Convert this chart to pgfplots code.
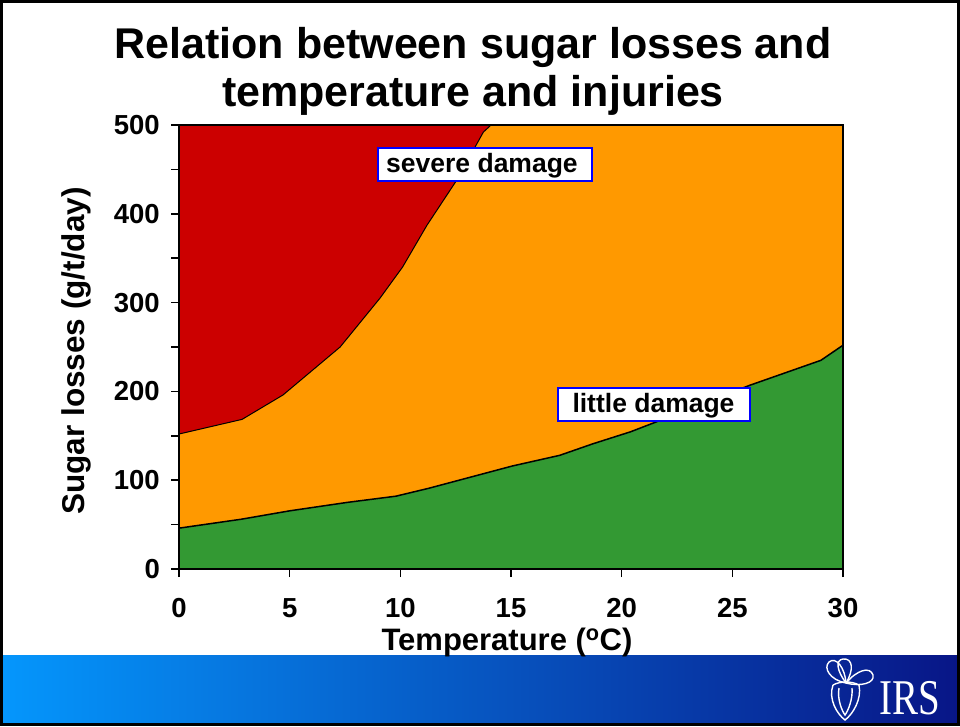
\documentclass[border=0pt]{standalone}
\usepackage{pgfplots}
\pgfplotsset{compat=1.18}
\usepackage{fontspec}
\setmainfont{Liberation Sans}
\newfontfamily\seriffont{Liberation Serif}
\definecolor{redC}{RGB}{204,0,0}
\definecolor{orangeC}{RGB}{255,153,0}
\definecolor{greenC}{RGB}{51,153,51}
\definecolor{barL}{RGB}{5,150,252}
\definecolor{barR}{RGB}{8,22,135}
\begin{document}
\begin{tikzpicture}[x=1pt,y=1pt]
\useasboundingbox (0,0) rectangle (960,726);
\fill[white] (0,0) rectangle (960,726);
\shade[left color=barL, right color=barR] (3,4) rectangle (957,71);
\begin{axis}[at={(179pt,157pt)}, anchor=south west, scale only axis,
  width=664pt, height=444pt,
  xmin=0, xmax=30, ymin=0, ymax=500,
  xtick={0,5,...,30}, ytick={0,100,...,500}, minor ytick={50,150,...,450},
  xtick pos=left, ytick pos=left,
  tick align=outside, major tick length=8pt, minor tick length=8pt,
  every tick/.style={black, line width=1.5pt},
  axis line style={black, line width=2pt},
  axis on top,
  axis background/.style={fill=orangeC},
  /pgf/number format/assume math mode=true,
  ticklabel style={font=\bfseries\fontsize{27.5}{27.5}\selectfont, inner sep=0pt},
  xticklabel style={anchor=base, yshift=-40pt},
  yticklabel style={anchor=east, xshift=-11pt},
]
\addplot[fill=greenC, draw=none] coordinates {
 (0,46) (2.8,56) (5,65.5) (7.6,75) (9.8,82) (11.3,91) (15.06,116) (17.2,128)
 (18.7,141) (20.4,154.5) (21.6,166) (23.7,187) (25.8,207) (29,235) (30,252)} \closedcycle;
\addplot[fill=redC, draw=none] coordinates {
 (0,152) (2.85,168.5) (4.7,196) (7.28,250) (9.08,305) (10.1,340) (11.2,387)
 (12.55,438) (13.75,492) (14.1,500) (0,500)} -- cycle;
\addplot[black, line width=1.5pt] coordinates {
 (0,46) (2.8,56) (5,65.5) (7.6,75) (9.8,82) (11.3,91) (15.06,116) (17.2,128)
 (18.7,141) (20.4,154.5) (21.6,166) (23.7,187) (25.8,207) (29,235) (30,252)};
\addplot[black, line width=1pt] coordinates {
 (0,152) (2.85,168.5) (4.7,196) (7.28,250) (9.08,305) (10.1,340) (11.2,387)
 (12.55,438) (13.75,492) (14.1,500)};
\end{axis}
% annotation boxes
\draw[blue, line width=1.2pt, fill=white] (378,545) rectangle (592,578);
\node[anchor=base, inner sep=0pt, font=\bfseries\fontsize{26.5}{26.5}\selectfont] at (482,553) {severe damage};
\draw[blue, line width=1.2pt, fill=white] (558,305) rectangle (750,338);
\node[anchor=base, inner sep=0pt, font=\bfseries\fontsize{26.5}{26.5}\selectfont] at (653.5,313) {little damage};
% title
\node[anchor=base, inner sep=0pt, font=\bfseries\fontsize{43}{43}\selectfont] at (473,667) {Relation between sugar losses and};
\node[anchor=base, inner sep=0pt, font=\bfseries\fontsize{43}{43}\selectfont] at (473,619) {temperature and injuries};
% axis labels
\node[anchor=base, inner sep=0pt, font=\bfseries\fontsize{31}{31}\selectfont] at (507,76) {Temperature (\textsuperscript{o}C)};
\node[anchor=base, rotate=90, inner sep=0pt, font=\bfseries\fontsize{31.5}{31.5}\selectfont] at (84,375) {Sugar losses (g/t/day)};
% logo
\begin{scope}[white, line width=1.4pt]
\draw (846,43) .. controls (830,46) and (823,58) .. (829,64) .. controls (836,70) and (845,58) .. (846,43);
\draw (846,43) .. controls (837,55) and (835,66) .. (843,67) .. controls (853,68) and (854,56) .. (846,43);
\draw (846,43) .. controls (857,56) and (870,60) .. (873,51) .. controls (875,43) and (861,39) .. (846,43);
\draw (833,41) .. controls (840,45) and (852,45) .. (859,41);
\draw (833,41) .. controls (828,27) and (837,12) .. (845,6) .. controls (853,12) and (862,27) .. (859,41);
\draw (839,38) .. controls (837,27) and (842,15) .. (845,11) .. controls (848,15) and (853,27) .. (852,38);
\end{scope}
\node[anchor=base, inner sep=0pt, white, font=\seriffont\fontsize{50}{50}\selectfont, xscale=0.78, transform shape] at (910,12) {IRS};
\draw[black, line width=3pt] (1.5,1.5) rectangle (958.5,724.5);
\end{tikzpicture}
\end{document}
